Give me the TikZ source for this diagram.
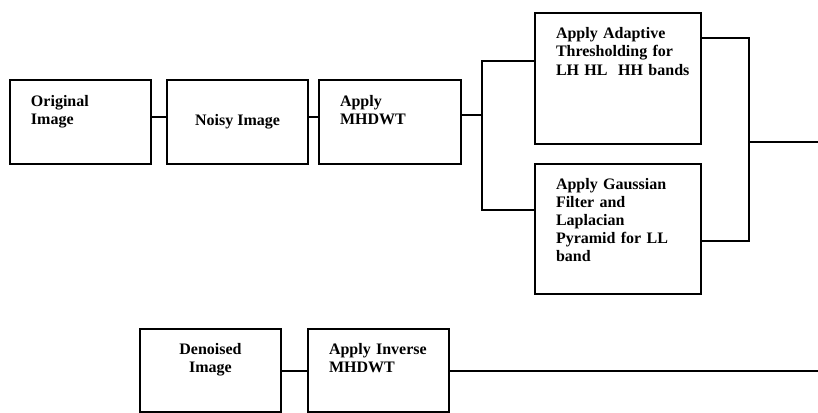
\documentclass[tikz,border=0pt]{standalone}
\usepackage{fontspec}
\setmainfont{Liberation Serif}
\usepackage{tikz}

\begin{document}
\begin{tikzpicture}[
  x=0.5pt, y=-0.5pt,
  stage/.style={draw, line width=1pt, inner xsep=10.5pt, inner ysep=0pt,
    align=left, text height=13pt, text depth=29pt, anchor=north west,
    font=\fontsize{8}{9}\selectfont\bfseries},
  wide stage/.style={stage, text width=62pt, text depth=52.5pt},
  link/.style={line width=1pt}]
    \useasboundingbox (0,0) rectangle (818,412);
    % First row of the chain
    \node[stage, text width=49.5pt] (orig) at (9,79) {Original\\Image};
    \node[draw, line width=1pt, anchor=north west, minimum width=70.5pt,
      minimum height=42pt, inner sep=0pt, font=\fontsize{8}{9}\selectfont\bfseries]
      (noisy) at (166,79) {Noisy Image};
    \node[stage, text width=50pt] (mhdwt) at (318,79) {Apply\\MHDWT};
    % Two branches after the transform
    \node[wide stage] (thresh) at (534,12)
      {Apply Adaptive\\Thresholding for\\\mbox{LH HL\ \ HH bands}};
    \node[wide stage, text height=12.5pt] (gauss) at (534,163)
      {Apply Gaussian\\Filter and\\Laplacian\\Pyramid for LL\\band};
    % Second row of the chain
    \node[stage, text width=49.5pt, align=center, text height=12.5pt]
      (denoised) at (139,328) {Denoised\\Image};
    \node[stage, text width=49.5pt, text height=12.5pt] (inverse) at (307,328)
      {Apply Inverse\\MHDWT};
    \coordinate (outA) at (818,142);
    \coordinate (outB) at (818,0);
    % Connectors
    \draw[link] ([yshift=2.5pt]orig.east) -- ([yshift=2.5pt]noisy.west);
    \draw[link] ([yshift=2.5pt]noisy.east) -- ([yshift=2.5pt]mhdwt.west);
    \draw[link] ([yshift=3.5pt]mhdwt.east) -- ++(10pt,0) coordinate (split);
    \draw[link] ([yshift=8.75pt]thresh.west) -| (split) |- ([yshift=9.75pt]gauss.west);
    \draw[link] ([yshift=20.25pt]thresh.east) -- ++(23.5pt,0) coordinate (merge)
      |- ([yshift=-5.75pt]gauss.east);
    \draw[link] (merge |- outA) -- (outA);
    \draw[link] (denoised) -- (inverse);
    \draw[link] (inverse.east) -- (inverse.east -| outB);
\end{tikzpicture}
\end{document}
